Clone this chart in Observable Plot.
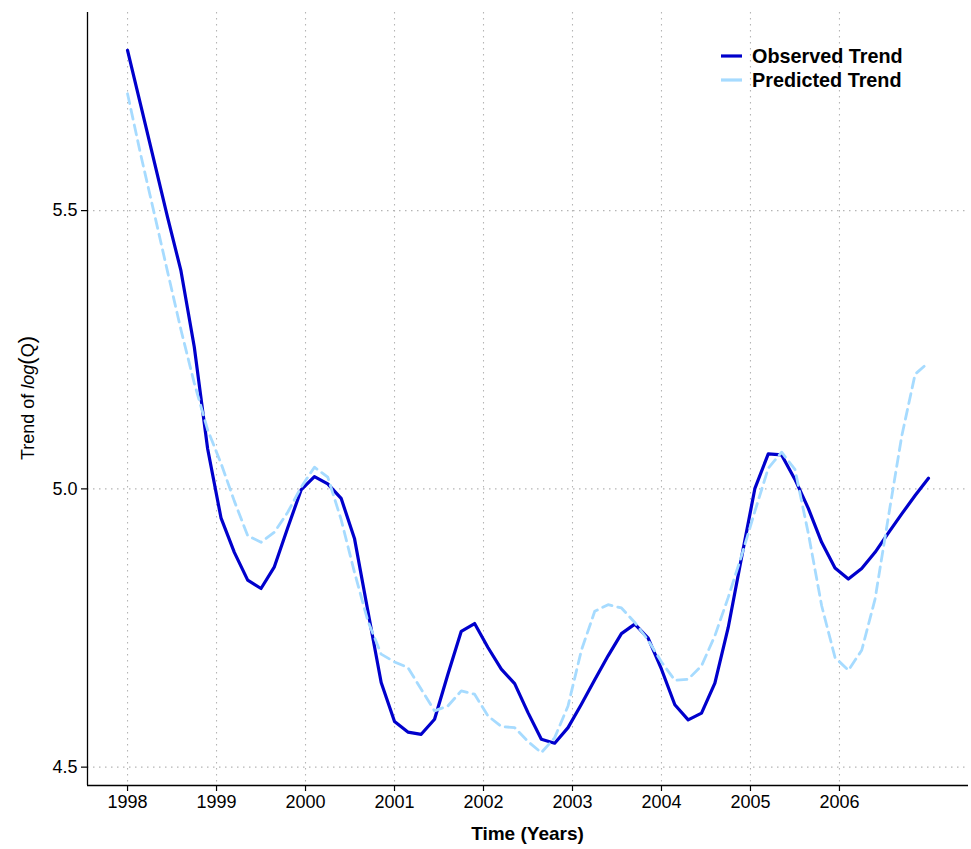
<!DOCTYPE html>
<html>
<head>
<meta charset="utf-8">
<script src="https://cdn.jsdelivr.net/npm/d3@7"></script>
<script src="https://cdn.jsdelivr.net/npm/@observablehq/plot@0.6"></script>
<style>
  html, body { margin: 0; padding: 0; background: #fff; }
  #chart { width: 971px; height: 849px; }
</style>
</head>
<body>
<div id="chart"></div>
<script>
// ---- data -------------------------------------------------------------
const time = [
  1998.00, 1998.15, 1998.30, 1998.45, 1998.60, 1998.75, 1998.90, 1999.05, 1999.20, 1999.35,
  1999.50, 1999.65, 1999.80, 1999.95, 2000.10, 2000.25, 2000.40, 2000.55, 2000.70, 2000.85,
  2001.00, 2001.15, 2001.30, 2001.45, 2001.60, 2001.75, 2001.90, 2002.05, 2002.20, 2002.35,
  2002.50, 2002.65, 2002.80, 2002.95, 2003.10, 2003.25, 2003.40, 2003.55, 2003.70, 2003.85,
  2004.00, 2004.15, 2004.30, 2004.45, 2004.60, 2004.75, 2004.90, 2005.05, 2005.20, 2005.35,
  2005.50, 2005.65, 2005.80, 2005.95, 2006.10, 2006.25, 2006.40, 2006.55, 2006.70, 2006.85,
  2007.00
];
const observedTrend = [
  5.788, 5.688, 5.588, 5.488, 5.392, 5.255, 5.072, 4.948, 4.886, 4.836,
  4.821, 4.860, 4.930, 4.998, 5.022, 5.009, 4.983, 4.911, 4.781, 4.652,
  4.582, 4.563, 4.559, 4.586, 4.667, 4.744, 4.758, 4.715, 4.676, 4.650,
  4.598, 4.550, 4.543, 4.571, 4.613, 4.657, 4.700, 4.740, 4.757, 4.732,
  4.676, 4.612, 4.585, 4.597, 4.651, 4.751, 4.877, 5.001, 5.063, 5.061,
  5.017, 4.965, 4.904, 4.858, 4.838, 4.857, 4.886, 4.921, 4.955, 4.988,
  5.019
];
const predictedTrend = [
  5.710, 5.599, 5.495, 5.390, 5.286, 5.190, 5.106, 5.046, 4.978, 4.916,
  4.904, 4.922, 4.958, 5.003, 5.039, 5.021, 4.945, 4.850, 4.763, 4.703,
  4.689, 4.679, 4.640, 4.601, 4.610, 4.637, 4.631, 4.592, 4.573, 4.571,
  4.546, 4.526, 4.553, 4.610, 4.710, 4.780, 4.792, 4.786, 4.760, 4.728,
  4.689, 4.656, 4.658, 4.682, 4.736, 4.805, 4.880, 4.960, 5.037, 5.066,
  5.035, 4.920, 4.790, 4.697, 4.674, 4.710, 4.802, 4.950, 5.095, 5.206,
  5.227
];
const seriesNames = ["Observed Trend", "Predicted Trend"];
const xTicks = [1998, 1999, 2000, 2001, 2002, 2003, 2004, 2005, 2006];
const yTicks = [4.5, 5.0, 5.5];
const xDomain = [1997.55, 2007.45];
const yDomain = [4.467, 5.856];

const colors = {obs: "#0000CC", pred: "#a6dbff"};

const obs = time.map((t, i) => ({t, v: observedTrend[i]}));
const pred = time.map((t, i) => ({t, v: predictedTrend[i]}));

// ---- chart ------------------------------------------------------------
const font = "'Liberation Sans', Arial, Helvetica, sans-serif";
const chart = Plot.plot({
  width: 971,
  height: 849,
  marginLeft: 87,
  marginRight: 3,
  marginTop: 12,
  marginBottom: 64,
  style: {fontFamily: font, fontSize: "18px", color: "#000", background: "#fff", overflow: "visible"},
  x: {domain: xDomain},
  y: {domain: yDomain},
  marks: [
    Plot.gridX(xTicks, {stroke: "#b5b5b5", strokeOpacity: 1, strokeWidth: 1.1, strokeDasharray: "1.5,4.5"}),
    Plot.gridY(yTicks, {stroke: "#b5b5b5", strokeOpacity: 1, strokeWidth: 1.1, strokeDasharray: "1.5,4.5"}),
    Plot.ruleX([xDomain[0]], {stroke: "#000", strokeWidth: 1.3}),
    Plot.ruleY([yDomain[0]], {stroke: "#000", strokeWidth: 1.3}),
    Plot.axisX(xTicks, {tickSize: 6, tickPadding: 4, tickFormat: d => String(d), label: null, stroke: "#000", strokeWidth: 1.2, fontSize: 18}),
    Plot.axisY(yTicks, {tickSize: 6, tickPadding: 4, tickFormat: d3.format(".1f"), label: null, stroke: "#000", strokeWidth: 1.2, fontSize: 18}),
    Plot.line(obs, {x: "t", y: "v", stroke: colors.obs, strokeWidth: 3.2}),
    Plot.line(pred, {x: "t", y: "v", stroke: colors.pred, strokeWidth: 2.8, strokeDasharray: "10,6"})
  ]
});

document.getElementById("chart").appendChild(chart);

// ---- titles and legend ------------------------------------------------
const svg = d3.select(chart);

svg.append("text")
  .attr("x", 527.5).attr("y", 840)
  .attr("text-anchor", "middle")
  .attr("font-family", font).attr("font-size", 19).attr("font-weight", "bold")
  .attr("fill", "#000")
  .text("Time (Years)");

const yt = svg.append("text")
  .attr("transform", "translate(34,398) rotate(-90)")
  .attr("text-anchor", "middle")
  .attr("font-family", font).attr("font-size", 18)
  .attr("fill", "#000");
yt.append("tspan").text("Trend of ");
yt.append("tspan").attr("font-style", "italic").text("log");
yt.append("tspan").attr("font-size", 22).text("(");
yt.append("tspan").text("Q");
yt.append("tspan").attr("font-size", 22).text(")");

const legend = svg.append("g")
  .attr("font-family", font).attr("font-size", 19.8).attr("font-weight", "bold")
  .attr("text-anchor", "start");
seriesNames.forEach((name, i) => {
  const y = 56 + i * 24;
  const key = i === 0 ? "obs" : "pred";
  legend.append("line")
    .attr("x1", 721).attr("x2", 742).attr("y1", y).attr("y2", y)
    .attr("stroke", colors[key]).attr("stroke-width", 3.2);
  legend.append("text")
    .attr("x", 752).attr("y", y).attr("dy", "0.36em")
    .attr("text-anchor", "start")
    .attr("fill", "#000")
    .text(name);
});
</script>
</body>
</html>
